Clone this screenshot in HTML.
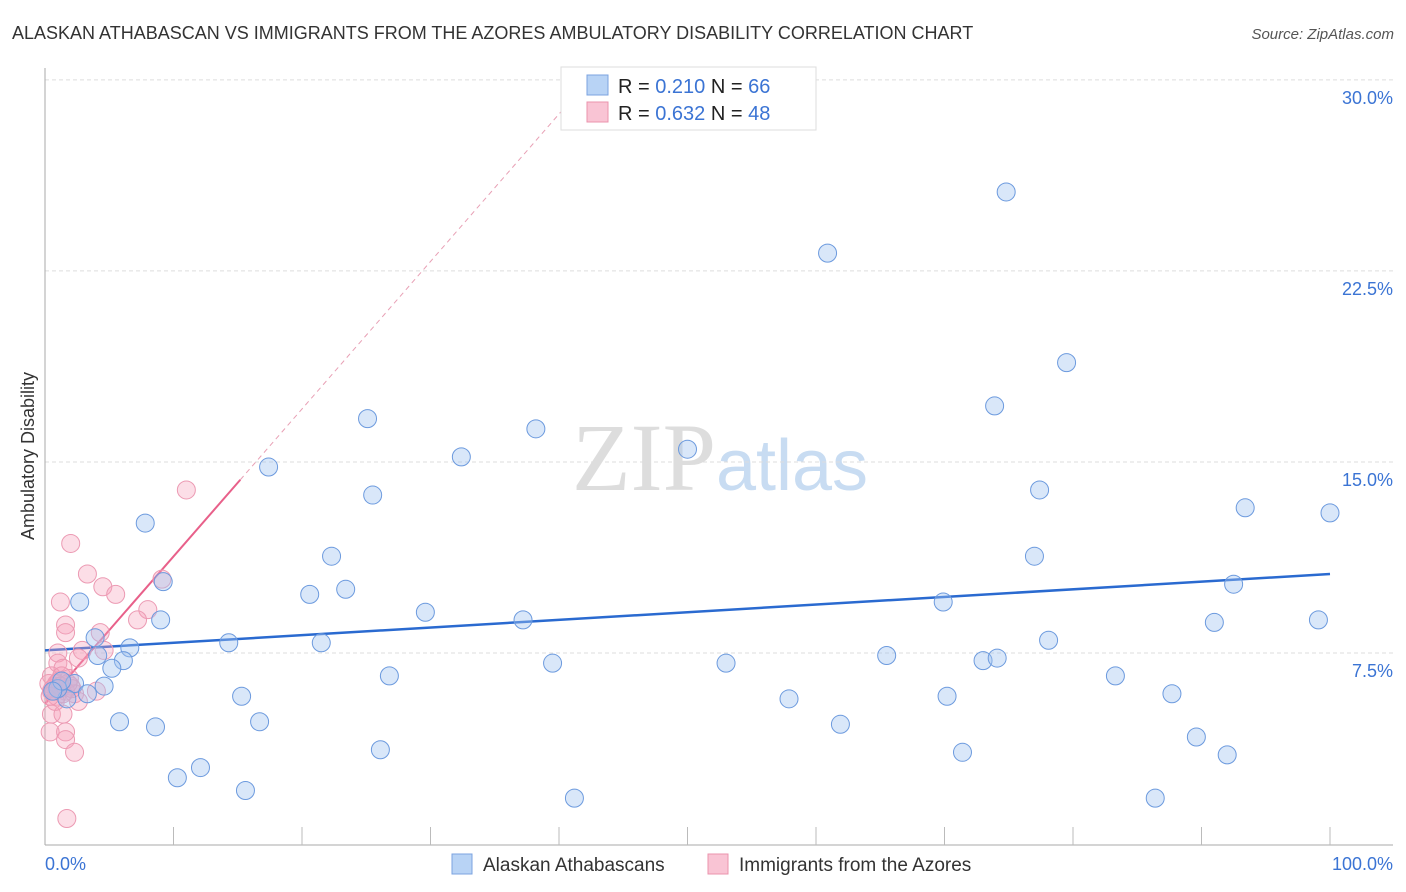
<!DOCTYPE html>
<html><head><meta charset="utf-8"><style>
body{margin:0;background:#fff;font-family:"Liberation Sans",sans-serif}
svg{display:block}
</style></head><body>
<svg id="chart" width="1406" height="892" xmlns="http://www.w3.org/2000/svg" font-family="Liberation Sans, sans-serif">
<text x="12" y="39" font-size="18" fill="#333">ALASKAN ATHABASCAN VS IMMIGRANTS FROM THE AZORES AMBULATORY DISABILITY CORRELATION CHART</text>
<text x="1394" y="39" font-size="15" fill="#555" font-style="italic" text-anchor="end">Source: ZipAtlas.com</text>
<text x="720" y="490" font-size="96" text-anchor="middle" fill="#ddd" font-family="Liberation Serif, serif">ZIP<tspan fill="#c8dcf2" font-family="Liberation Sans, sans-serif" font-size="72">atlas</tspan></text>
<g id="grid"></g>
<g id="axes"></g>
<text transform="translate(34,456) rotate(-90)" font-size="18" fill="#333" text-anchor="middle">Ambulatory Disability</text>
<g id="trends"></g>
<g id="pts"></g>
<g>
<rect x="561" y="67" width="255" height="63" fill="#fff" stroke="#ddd"/>
<rect x="587" y="75" width="21" height="20" fill="#b8d3f5" stroke="#7ba3e0"/>
<rect x="587" y="102" width="21" height="20" fill="#f9c4d4" stroke="#eb93ad"/>
<text x="618" y="93" font-size="20" fill="#222">R = <tspan fill="#3b74d4">0.210</tspan>   N = <tspan fill="#3b74d4">66</tspan></text>
<text x="618" y="120" font-size="20" fill="#222">R = <tspan fill="#3b74d4">0.632</tspan>   N = <tspan fill="#3b74d4">48</tspan></text>
</g>
<g>
<rect x="452" y="854" width="20" height="20" fill="#b8d3f5" stroke="#7ba3e0"/>
<text x="483" y="871" font-size="19" fill="#333">Alaskan Athabascans</text>
<rect x="708" y="854" width="20" height="20" fill="#f9c4d4" stroke="#eb93ad"/>
<text x="739" y="871" font-size="19" fill="#333">Immigrants from the Azores</text>
</g>
</svg>
<script>
const yTicks=[7.5,15,22.5,30];
const yTickLabels=["7.5%","15.0%","22.5%","30.0%"];
const xTicks=[0,10,20,30,40,50,60,70,80,90,100];
const blueX=[74.8,60.9,79.5,73.9,25.1,38.2,32.4,50.0,17.4,25.5,77.4,7.8,93.4,100,22.3,77.0,92.5,23.4,20.6,2.7,69.9,29.6,9.0,37.2,99.1,91.0,3.9,6.6,14.3,21.5,78.1,4.1,6.1,5.2,9.2,39.5,53.0,65.5,73.0,74.1,26.8,83.3,2.3,4.6,3.3,15.3,70.2,87.7,1.7,57.9,5.8,16.7,61.9,8.6,26.1,71.4,89.6,92.0,12.1,10.3,15.6,41.2,86.4,1.0,1.3,0.6];
const blueY=[25.6,23.2,18.9,17.2,16.7,16.3,15.2,15.5,14.8,13.7,13.9,12.6,13.2,13.0,11.3,11.3,10.2,10.0,9.8,9.5,9.5,9.1,8.8,8.8,8.8,8.7,8.1,7.7,7.9,7.9,8.0,7.4,7.2,6.9,10.3,7.1,7.1,7.4,7.2,7.3,6.6,6.6,6.3,6.2,5.9,5.8,5.8,5.9,5.7,5.7,4.8,4.8,4.7,4.6,3.7,3.6,4.2,3.5,3.0,2.6,2.1,1.8,1.8,6.1,6.4,6.0];
const pinkX=[2.0,3.3,11.0,9.1,1.2,4.5,5.5,8.0,7.2,1.6,1.6,4.3,1.0,2.9,2.6,4.6,1.0,1.4,0.5,1.3,0.8,1.2,1.6,0.5,0.9,2.0,2.3,4.0,2.6,0.5,1.4,0.4,1.6,1.6,2.3,1.7,0.8,0.3,1.1,1.9,0.6,1.4,2.1,0.9,1.2,0.4,1.8,0.7];
const pinkY=[11.8,10.6,13.9,10.4,9.5,10.1,9.8,9.2,8.8,8.6,8.3,8.3,7.5,7.6,7.3,7.6,7.1,6.9,6.6,6.6,6.2,6.1,6.0,6.0,5.8,6.2,5.9,6.0,5.6,5.1,5.1,4.4,4.4,4.1,3.6,1.0,5.6,6.3,6.4,6.5,6.1,5.9,6.1,6.3,6.2,5.8,6.3,6.0];
const blueTrend=[7.6,10.6];
const pinkTrend=[5.5,0.579];
const X=v=>45+v*12.85, Y=v=>844-v*25.47;
const NS="http://www.w3.org/2000/svg";
function mk(t,p,a){const e=document.createElementNS(NS,t);for(const k in a)e.setAttribute(k,a[k]);p.appendChild(e);return e;}
const grid=document.getElementById('grid'),axes=document.getElementById('axes'),pts=document.getElementById('pts'),tr=document.getElementById('trends');
yTicks.forEach((v,i)=>{
 const l=mk('line',grid,{x1:45,x2:1393,y1:Y(v),y2:Y(v),stroke:'#ddd','stroke-dasharray':'4,3'});
 
 
 const t=mk('text',grid,{x:1393,y:Y(v)+24,'font-size':18,fill:'#3b74d4','text-anchor':'end'});
 t.textContent=yTickLabels[i];
 
 
});
mk('line',axes,{x1:45,x2:45,y1:68,y2:845,stroke:'#aaa'});
mk('line',axes,{x1:45,x2:1393,y1:845,y2:845,stroke:'#aaa'});
xTicks.forEach(v=>{if(v>0){const l=mk('line',axes,{x1:X(v),x2:X(v),y1:827,y2:845,stroke:'#bbb'});
 
 }});
const t0=mk('text',axes,{x:45,y:870,'font-size':18,fill:'#3b74d4'});t0.textContent='0.0%';


const t1=mk('text',axes,{x:1393,y:870,'font-size':18,fill:'#3b74d4','text-anchor':'end'});t1.textContent='100.0%';


pinkX.forEach((x,i)=>{const c=mk('circle',pts,{cx:X(x),cy:Y(pinkY[i]),r:9,fill:'rgba(245,160,185,0.35)',stroke:'#ec9ab3','stroke-width':1});
 
 });
blueX.forEach((x,i)=>{const c=mk('circle',pts,{cx:X(x),cy:Y(blueY[i]),r:9,fill:'rgba(160,196,240,0.4)',stroke:'#6c9ade','stroke-width':1});
 
 });
const bl=mk('line',tr,{x1:X(0),y1:Y(blueTrend[0]),x2:X(100),y2:Y(blueTrend[1]),stroke:'#2a6ad0','stroke-width':2.5});


const pl=mk('line',tr,{x1:X(0),y1:Y(pinkTrend[0]),x2:X(15.2),y2:Y(pinkTrend[0]+pinkTrend[1]*15.2),stroke:'#e8608a','stroke-width':2});


const pd=mk('line',tr,{x1:X(15.2),y1:Y(pinkTrend[0]+pinkTrend[1]*15.2),x2:X(40.9),y2:Y(pinkTrend[0]+pinkTrend[1]*40.9),stroke:'#e8a0b5','stroke-width':1,'stroke-dasharray':'5,4'});


</script>
</body></html>
